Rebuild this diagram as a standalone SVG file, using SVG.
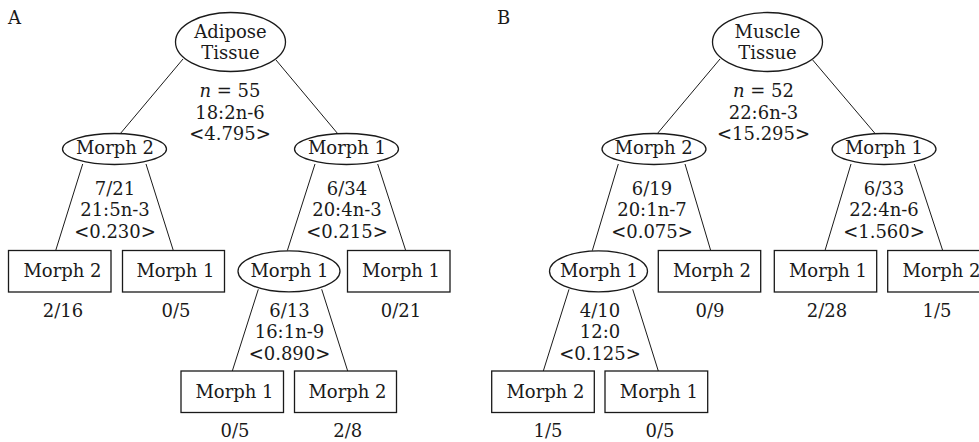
<svg xmlns="http://www.w3.org/2000/svg" width="979" height="442" viewBox="0 0 979 442">
<style>
text{font-family:"DejaVu Serif","Liberation Serif",serif;font-size:18px;fill:#1a1a1a;text-anchor:middle}
.lbl{text-anchor:start}
.n{fill:#fff;stroke:#1a1a1a;stroke-width:1.3}
.c line{stroke:#1a1a1a;stroke-width:1}
</style>
<rect width="979" height="442" fill="#fff"/>
<text class="lbl" x="8" y="24">A</text>
<text class="lbl" x="497" y="24">B</text>
<g class="c" id="connectors">
<line x1="183" y1="59" x2="120" y2="134"/>
<line x1="276" y1="60" x2="338" y2="134"/>
<line x1="82.7" y1="164" x2="55.7" y2="250.5"/>
<line x1="146" y1="164" x2="173.3" y2="250.5"/>
<line x1="315" y1="164" x2="287.3" y2="250.7"/>
<line x1="377.7" y1="164" x2="405.7" y2="250.5"/>
<line x1="258.3" y1="289.3" x2="232.3" y2="371"/>
<line x1="321.7" y1="289.3" x2="347.7" y2="371"/>
<line x1="720" y1="59" x2="657" y2="134"/>
<line x1="812.7" y1="60" x2="875.5" y2="134"/>
<line x1="618.3" y1="164" x2="592.3" y2="250.7"/>
<line x1="685" y1="164" x2="710.7" y2="250.5"/>
<line x1="851" y1="164" x2="825" y2="250.5"/>
<line x1="914.3" y1="164" x2="942.7" y2="250.5"/>
<line x1="569" y1="289.3" x2="543.3" y2="371"/>
<line x1="632.7" y1="289.3" x2="658.3" y2="371"/>
</g>
<g id="a-root"><ellipse class="n" cx="230.5" cy="42" rx="55" ry="29.5"/><text x="230.5" y="38.3">Adipose</text><text x="230.5" y="59.3">Tissue</text></g>
<g id="a-root-label"><text x="230" y="97"><tspan font-style="italic">n</tspan> = 55</text><text x="230" y="118.5">18:2n-6</text><text x="230" y="140">&lt;4.795&gt;</text></g>
<g id="a-l1l"><ellipse class="n" cx="114.5" cy="149" rx="52" ry="15.5"/><text x="115" y="153.5">Morph 2</text></g>
<g id="a-l1l-label"><text x="115" y="194.5">7/21</text><text x="115" y="216">21:5n-3</text><text x="115" y="237.5">&lt;0.230&gt;</text></g>
<g id="a-l1r"><ellipse class="n" cx="346.5" cy="149" rx="52" ry="15.5"/><text x="347" y="153.5">Morph 1</text></g>
<g id="a-l1r-label"><text x="347" y="194.5">6/34</text><text x="347" y="216">20:4n-3</text><text x="347" y="237.5">&lt;0.215&gt;</text></g>
<g id="a-b1"><rect class="n" x="8.5" y="250.5" width="102.5" height="41.5"/><text x="62.5" y="277">Morph 2</text><text x="63" y="317">2/16</text></g>
<g id="a-b2"><rect class="n" x="122.5" y="250.5" width="102" height="41.5"/><text x="175.5" y="277">Morph 1</text><text x="176" y="317">0/5</text></g>
<g id="a-l2"><ellipse class="n" cx="289" cy="271.3" rx="51" ry="20.5"/><text x="289.5" y="277">Morph 1</text></g>
<g id="a-l2-label"><text x="289.5" y="316.5">6/13</text><text x="289.5" y="338">16:1n-9</text><text x="289.5" y="359.5">&lt;0.890&gt;</text></g>
<g id="a-b3"><rect class="n" x="347.5" y="250.5" width="102.5" height="41.5"/><text x="401" y="277">Morph 1</text><text x="401" y="317">0/21</text></g>
<g id="a-b4"><rect class="n" x="181" y="371" width="102.5" height="41.5"/><text x="234.5" y="397.7">Morph 1</text><text x="235" y="437.3">0/5</text></g>
<g id="a-b5"><rect class="n" x="294.5" y="371" width="102" height="41.5"/><text x="347.5" y="397.7">Morph 2</text><text x="347.7" y="437.3">2/8</text></g>
<g id="b-root"><ellipse class="n" cx="767.5" cy="42" rx="55" ry="29.5"/><text x="767.5" y="38.3">Muscle</text><text x="767.5" y="59.3">Tissue</text></g>
<g id="b-root-label"><text x="763.5" y="97"><tspan font-style="italic">n</tspan> = 52</text><text x="763.5" y="118.5">22:6n-3</text><text x="763.5" y="140">&lt;15.295&gt;</text></g>
<g id="b-l1l"><ellipse class="n" cx="654" cy="149" rx="52" ry="15.5"/><text x="653.7" y="153.5">Morph 2</text></g>
<g id="b-l1l-label"><text x="652" y="194.5">6/19</text><text x="652" y="216">20:1n-7</text><text x="652" y="237.5">&lt;0.075&gt;</text></g>
<g id="b-l1r"><ellipse class="n" cx="884" cy="149" rx="52" ry="15.5"/><text x="884" y="153.5">Morph 1</text></g>
<g id="b-l1r-label"><text x="884" y="194.5">6/33</text><text x="884" y="216">22:4n-6</text><text x="884" y="237.5">&lt;1.560&gt;</text></g>
<g id="b-l2"><ellipse class="n" cx="598.5" cy="271.3" rx="49" ry="20.5"/><text x="599" y="277">Morph 1</text></g>
<g id="b-l2-label"><text x="600" y="316.5">4/10</text><text x="600" y="338">12:0</text><text x="600" y="359.5">&lt;0.125&gt;</text></g>
<g id="b-b1"><rect class="n" x="658.3" y="250.5" width="102.4" height="41.5"/><text x="712" y="277">Morph 2</text><text x="710" y="317">0/9</text></g>
<g id="b-b2"><rect class="n" x="774.3" y="250.5" width="102.4" height="41.5"/><text x="828" y="277">Morph 1</text><text x="827" y="317">2/28</text></g>
<g id="b-b3"><rect class="n" x="887.7" y="250.5" width="102.4" height="41.5"/><text x="941.5" y="277">Morph 2</text><text x="937" y="317">1/5</text></g>
<g id="b-b4"><rect class="n" x="491.7" y="371" width="102.6" height="41.5"/><text x="545.5" y="397.7">Morph 2</text><text x="548" y="437.3">1/5</text></g>
<g id="b-b5"><rect class="n" x="605" y="371" width="102.7" height="41.5"/><text x="658.8" y="397.7">Morph 1</text><text x="660" y="437.3">0/5</text></g>
</svg>
